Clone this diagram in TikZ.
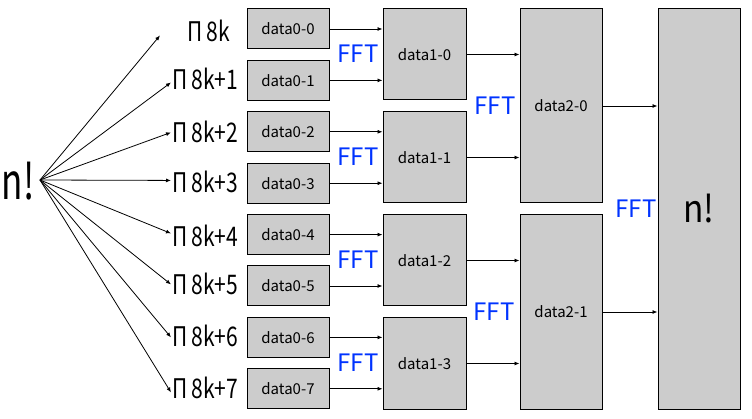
\documentclass[tikz,border=0pt]{standalone}
\usepackage{fontspec}
\setmainfont{Noto Sans CJK JP}
\newfontfamily\labfont[FakeStretch=0.78]{Noto Sans CJK JP}
\newfontfamily\bigfont[FakeStretch=0.7]{Noto Sans CJK JP}
\newfontfamily\resfont[FakeStretch=0.88]{Noto Sans CJK JP}
\usetikzlibrary{arrows.meta}
\definecolor{fftblue}{RGB}{0,51,255}
\definecolor{boxgray}{RGB}{204,204,204}
\begin{document}
\begin{tikzpicture}[x=1pt,y=-1pt,
  databox/.style={draw=black,fill=boxgray,line width=1pt,inner sep=0pt,font=\fontsize{15}{15}\selectfont},
  conn/.style={-{Latex[length=5pt,width=4pt]},line width=0.8pt},
  fftlabel/.style={text=fftblue,font=\fontsize{24}{24}\selectfont,inner sep=0pt},
  prodlabel/.style={font=\labfont\fontsize{27}{27}\selectfont,inner sep=1pt,anchor=base west}]
\useasboundingbox (0,0) rectangle (752,419);

% level 0 boxes
\foreach \i/\y in {0/29,1/80.4,2/131.8,3/183.2,4/234.6,5/286,6/337.4,7/388.8}
  \node[databox,minimum width=82pt,minimum height=40pt] (d0\i) at (288,\y) {data0-\i};
% level 1 boxes
\foreach \j/\y in {0/54.5,1/157.5,2/260.5,3/363.5}
  \node[databox,minimum width=83pt,minimum height=91pt] (d1\j) at (424.5,\y) {data1-\j};
% level 2 boxes
\node[databox,minimum width=82pt,minimum height=194pt] (d20) at (561,106) {data2-0};
\node[databox,minimum width=82pt,minimum height=194pt] (d21) at (561,312) {data2-1};
% result box
\node[databox,minimum width=82pt,minimum height=400pt,font=\resfont\fontsize{38}{38}\selectfont] (res) at (699,209) {n!};

% connectors level 0 -> 1
\foreach \i/\j in {0/0,1/0,2/1,3/1,4/2,5/2,6/3,7/3}
  \draw[conn] (d0\i.east) -- (d0\i.east -| d1\j.west);
% level 1 -> 2
\foreach \j/\k in {0/0,1/0,2/1,3/1}
  \draw[conn] (d1\j.east) -- (d1\j.east -| d2\k.west);
% level 2 -> result
\foreach \k in {0,1}
  \draw[conn] (d2\k.east) -- (d2\k.east -| res.west);

% FFT labels
\foreach \y [count=\n] in {54,157,260,363}
  \node[fftlabel] (fa\n) at (358,\y) {FFT};
\node[fftlabel] (fb1) at (495,106) {FFT};
\node[fftlabel] (fb2) at (494,312) {FFT};
\node[fftlabel] (fc1) at (636,209) {FFT};

% source n!
\node[font=\bigfont\fontsize{50}{50}\selectfont,inner sep=0pt,anchor=base] (src) at (18,200) {n!};
\coordinate (hub) at (40,180);

% product labels
\node[prodlabel] (l0) at (186,42) {Π\kern4pt 8k};
\foreach \i/\b in {1/90,2/143,3/193,4/247,5/295,6/347,7/398}
  \node[prodlabel] (l\i) at (171,\b) {Π\kern4pt 8k+\i};

% fan-out connectors
\draw[conn] (hub) -- ([xshift=-26pt,yshift=-4pt]l0.west);
\foreach \i/\dy in {1/-3,2/0,3/2,4/3,5/0,6/-1,7/-5}
  \draw[conn] (hub) -- ([yshift=\dy pt]l\i.west);
\end{tikzpicture}
\end{document}
